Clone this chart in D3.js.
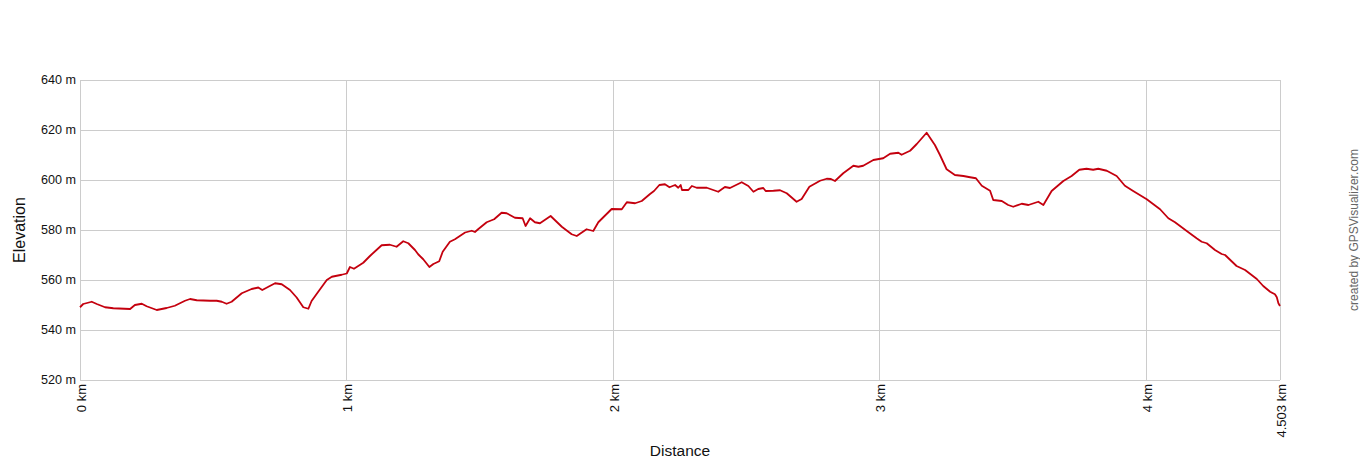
<!DOCTYPE html>
<html>
<head>
<meta charset="utf-8">
<script src="https://cdn.jsdelivr.net/npm/d3@7"></script>
<style>
  body { margin: 0; background: #fff; }
  svg text { font-family: Arial, "Liberation Sans", sans-serif; }
</style>
</head>
<body>
<svg width="1360" height="460"></svg>
<script>
var distKm = [0.000, 0.012, 0.044, 0.063, 0.094, 0.125, 0.188, 0.206, 0.232, 0.250,
  0.288, 0.325, 0.356, 0.394, 0.413, 0.438, 0.488, 0.513, 0.532, 0.550,
  0.569, 0.607, 0.644, 0.669, 0.684, 0.707, 0.732, 0.757, 0.788, 0.813,
  0.838, 0.857, 0.869, 0.894, 0.926, 0.945, 0.982, 1.001, 1.013, 1.028,
  1.063, 1.088, 1.132, 1.163, 1.188, 1.213, 1.232, 1.257, 1.269, 1.288,
  1.311, 1.326, 1.348, 1.361, 1.388, 1.407, 1.445, 1.470, 1.482, 1.495,
  1.526, 1.554, 1.582, 1.601, 1.632, 1.661, 1.672, 1.689, 1.707, 1.726,
  1.766, 1.808, 1.845, 1.864, 1.901, 1.926, 1.945, 1.995, 2.033, 2.052,
  2.083, 2.108, 2.139, 2.154, 2.174, 2.195, 2.212, 2.233, 2.245, 2.254,
  2.259, 2.283, 2.296, 2.314, 2.352, 2.395, 2.420, 2.439, 2.483, 2.508,
  2.527, 2.545, 2.564, 2.573, 2.602, 2.627, 2.652, 2.689, 2.708, 2.737,
  2.777, 2.802, 2.818, 2.833, 2.864, 2.902, 2.921, 2.939, 2.977, 3.014,
  3.040, 3.071, 3.083, 3.115, 3.140, 3.177, 3.208, 3.227, 3.252, 3.283,
  3.315, 3.340, 3.362, 3.384, 3.415, 3.427, 3.459, 3.483, 3.502, 3.534,
  3.559, 3.596, 3.615, 3.646, 3.690, 3.721, 3.750, 3.777, 3.802, 3.821,
  3.853, 3.890, 3.921, 3.952, 4.003, 4.053, 4.084, 4.109, 4.153, 4.190,
  4.209, 4.228, 4.259, 4.284, 4.297, 4.340, 4.372, 4.416, 4.440, 4.466,
  4.484, 4.491, 4.497, 4.503];

var elevM = [549.1, 550.4, 551.3, 550.4, 549.1, 548.7, 548.4, 550.0, 550.5, 549.5,
  548.0, 548.8, 549.7, 551.7, 552.4, 551.9, 551.7, 551.7, 551.3, 550.5,
  551.3, 554.7, 556.4, 557.0, 556.0, 557.3, 558.7, 558.3, 556.0, 553.0,
  549.1, 548.5, 551.6, 555.3, 560.0, 561.3, 562.1, 562.6, 565.2, 564.5,
  566.9, 569.6, 573.9, 574.1, 573.3, 575.5, 574.7, 572.0, 570.3, 568.3,
  565.2, 566.4, 567.5, 571.3, 575.3, 576.3, 579.0, 579.7, 579.2, 580.4,
  583.1, 584.3, 586.9, 586.7, 584.9, 584.7, 581.6, 584.7, 583.1, 582.7,
  585.6, 581.3, 578.3, 577.6, 580.3, 579.6, 583.1, 588.4, 588.3, 591.1,
  590.7, 591.6, 594.4, 595.6, 598.0, 598.3, 597.1, 598.0, 596.9, 598.0,
  596.0, 596.0, 597.6, 596.9, 596.9, 595.3, 597.2, 596.8, 599.1, 597.6,
  595.3, 596.4, 596.8, 595.6, 595.7, 595.9, 594.7, 591.3, 592.4, 597.3,
  599.7, 600.5, 600.4, 599.6, 602.7, 605.7, 605.3, 605.7, 608.0, 608.7,
  610.5, 610.9, 610.1, 611.7, 614.4, 618.9, 614.0, 610.0, 604.3, 602.0,
  601.6, 601.1, 600.7, 597.7, 595.7, 592.0, 591.6, 590.0, 589.3, 590.5,
  590.0, 591.3, 590.0, 595.6, 599.6, 601.6, 604.1, 604.5, 604.1, 604.5,
  603.7, 601.6, 597.7, 595.6, 592.3, 588.3, 584.7, 583.1, 579.6, 576.7,
  575.3, 574.7, 572.0, 570.4, 570.0, 565.6, 564.0, 560.4, 557.6, 555.3,
  554.3, 553.1, 550.7, 549.6];

var xTicks = [0, 1, 2, 3, 4, 4.503];
var xTickLabels = ["0 km", "1 km", "2 km", "3 km", "4 km", "4.503 km"];
var yTicks = [520, 540, 560, 580, 600, 620, 640];

var margin = {left: 80, top: 80, right: 80, bottom: 80};
var w = 1360, h = 460;

var svg = d3.select("svg");

var x = d3.scaleLinear().domain([0, 4.503]).range([margin.left, w - margin.right]);
var y = d3.scaleLinear().domain([520, 640]).range([h - margin.bottom, margin.top]);

// grid
svg.append("g")
  .selectAll("line")
  .data(yTicks)
  .enter()
  .append("line")
  .attr("x1", x(0)).attr("x2", x(4.503))
  .attr("y1", function(d){ return Math.round(y(d)) + 0.5; })
  .attr("y2", function(d){ return Math.round(y(d)) + 0.5; })
  .attr("stroke", "#cccccc")
  .attr("stroke-width", 1);

svg.append("g")
  .selectAll("line")
  .data(xTicks)
  .enter()
  .append("line")
  .attr("x1", function(d){ return Math.round(x(d)) + 0.5; })
  .attr("x2", function(d){ return Math.round(x(d)) + 0.5; })
  .attr("y1", y(640)).attr("y2", y(520))
  .attr("stroke", "#cccccc")
  .attr("stroke-width", 1);

// y labels
svg.append("g")
  .selectAll("text")
  .data(yTicks)
  .enter()
  .append("text")
  .text(function(d){ return d + " m"; })
  .attr("x", margin.left - 4)
  .attr("y", function(d){ return y(d); })
  .attr("dy", "0.35em")
  .attr("text-anchor", "end")
  .attr("font-size", "12.6px")
  .attr("fill", "#111");

// x labels, rotated
svg.append("g")
  .selectAll("text")
  .data(xTicks)
  .enter()
  .append("text")
  .text(function(d, i){ return xTickLabels[i]; })
  .attr("transform", function(d){
    return "translate(" + (x(d) + 1) + "," + (y(520) + 4) + ") rotate(-90)";
  })
  .attr("dy", "0.35em")
  .attr("text-anchor", "end")
  .attr("font-size", "13px")
  .attr("fill", "#111");

// profile
var pts = distKm.map(function(d, i){ return [d, elevM[i]]; });
var line = d3.line()
  .x(function(d){ return x(d[0]); })
  .y(function(d){ return y(d[1]); });

svg.append("path")
  .datum(pts)
  .attr("d", line)
  .attr("fill", "none")
  .attr("stroke", "#c4000e")
  .attr("stroke-width", 1.8)
  .attr("stroke-linejoin", "round");

// axis titles
svg.append("text")
  .text("Elevation")
  .attr("transform", "translate(19," + ((y(520) + y(640)) / 2) + ") rotate(-90)")
  .attr("dy", "0.35em")
  .attr("text-anchor", "middle")
  .attr("font-size", "16px")
  .attr("fill", "#111");

svg.append("text")
  .text("Distance")
  .attr("x", (x(0) + x(4.503)) / 2)
  .attr("y", 456)
  .attr("text-anchor", "middle")
  .attr("font-size", "15.5px")
  .attr("fill", "#111");

svg.append("text")
  .text("created by GPSVisualizer.com")
  .attr("transform", "translate(1354," + ((y(520) + y(640)) / 2) + ") rotate(-90)")
  .attr("dy", "0.35em")
  .attr("text-anchor", "middle")
  .attr("font-size", "12px")
  .attr("fill", "#666666");
</script>
</body>
</html>
